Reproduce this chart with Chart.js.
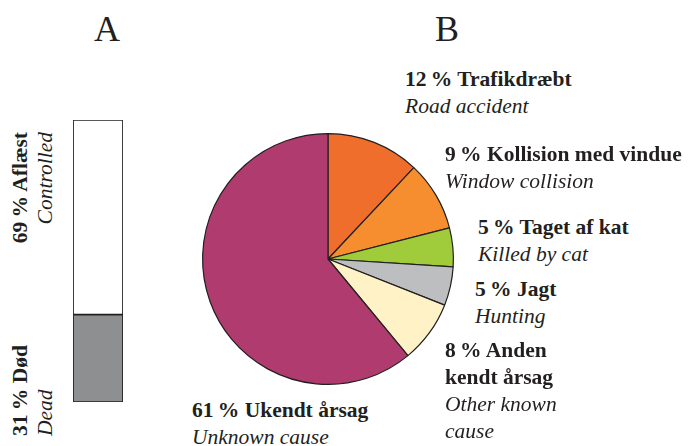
<!DOCTYPE html>
<html>
<head>
<meta charset="utf-8">
<script src="https://cdn.jsdelivr.net/npm/chart.js@4"></script>
<style>
  body { margin: 0; background: #fff; width: 694px; height: 446px; position: relative; overflow: hidden;
         font-family: "Liberation Serif", "DejaVu Serif", serif; color: #231f20; }
  canvas { position: absolute; }
  .lbl { position: absolute; white-space: nowrap; font-size: 21.5px; line-height: 27px; }
  .lbl b { font-weight: bold; }
  .lbl i { font-style: italic; }
  .panel { position: absolute; font-size: 36px; line-height: 36px; }
  .rot { position: absolute; white-space: nowrap; font-size: 21.5px; line-height: 25px;
         transform: rotate(-90deg); transform-origin: 0 0; width: 120px; }
</style>
</head>
<body>
<div class="panel" style="left:94px; top:11px;">A</div>
<div class="panel" style="left:435px; top:11px;">B</div>

<canvas id="chartA" width="52" height="284" style="left:72px; top:119px;"></canvas>
<canvas id="chartB" width="256" height="256" style="left:200px; top:131px;"></canvas>

<div id="labels"></div>

<script>
// panel A: status of ringed birds
const statusDa = ["Død", "Aflæst"];
const statusEn = ["Dead", "Controlled"];
const statusValues = [31, 69];
const statusColors = ["#8d8f91", "#ffffff"];

// panel B: cause of death
const causeDa = ["Trafikdræbt", "Kollision med vindue", "Taget af kat", "Jagt", "Anden<br>kendt årsag", "Ukendt årsag"];
const causeEn = ["Road accident", "Window collision", "Killed by cat", "Hunting", "Other known<br>cause", "Unknown cause"];
const causeValues = [12, 9, 5, 5, 8, 61];
const causeColors = ["#f06e2c", "#f68d2e", "#a0cb3b", "#bcbec0", "#fff2c6", "#b03b6f"];

const ink = "#231f20";

new Chart(document.getElementById("chartA"), {
  type: "bar",
  data: {
    labels: [""],
    datasets: statusValues.map((v, i) => ({
      label: statusEn[i],
      data: [v],
      backgroundColor: statusColors[i],
      borderColor: ink,
      borderWidth: 1.2,
      borderSkipped: false,
      barPercentage: 1,
      categoryPercentage: 1,
    })),
  },
  options: {
    responsive: false,
    animation: false,
    layout: { padding: 1 },
    plugins: { legend: { display: false }, tooltip: { enabled: false } },
    scales: {
      x: { display: false, stacked: true },
      y: { display: false, stacked: true, min: 0, max: 100 },
    },
  },
});

new Chart(document.getElementById("chartB"), {
  type: "pie",
  data: {
    labels: causeEn,
    datasets: [{
      data: causeValues,
      backgroundColor: causeColors,
      borderColor: ink,
      borderWidth: 1.2,
    }],
  },
  options: {
    responsive: false,
    animation: false,
    layout: { padding: 2 },
    plugins: { legend: { display: false }, tooltip: { enabled: false } },
  },
});

// label placement (top-left of each text block)
const causePos = [[405, 66], [445, 141], [478, 214], [475, 276], [445, 337], [192, 397]];
const holder = document.getElementById("labels");
causeValues.forEach((v, i) => {
  const d = document.createElement("div");
  d.className = "lbl";
  d.style.left = causePos[i][0] + "px";
  d.style.top = causePos[i][1] + "px";
  d.innerHTML = `<b>${v}\u2009% ${causeDa[i]}</b><br><i>${causeEn[i]}</i>`;
  holder.appendChild(d);
});

// rotated labels for panel A
const statusPos = [[8, 436, "left"], [8, 252, "right"]];
statusValues.forEach((v, i) => {
  const d = document.createElement("div");
  d.className = "rot";
  d.style.left = statusPos[i][0] + "px";
  d.style.top = statusPos[i][1] + "px";
  d.style.textAlign = statusPos[i][2];
  d.innerHTML = `<b>${v}\u2009% ${statusDa[i]}</b><br><i>${statusEn[i]}</i>`;
  holder.appendChild(d);
});
</script>
</body>
</html>
